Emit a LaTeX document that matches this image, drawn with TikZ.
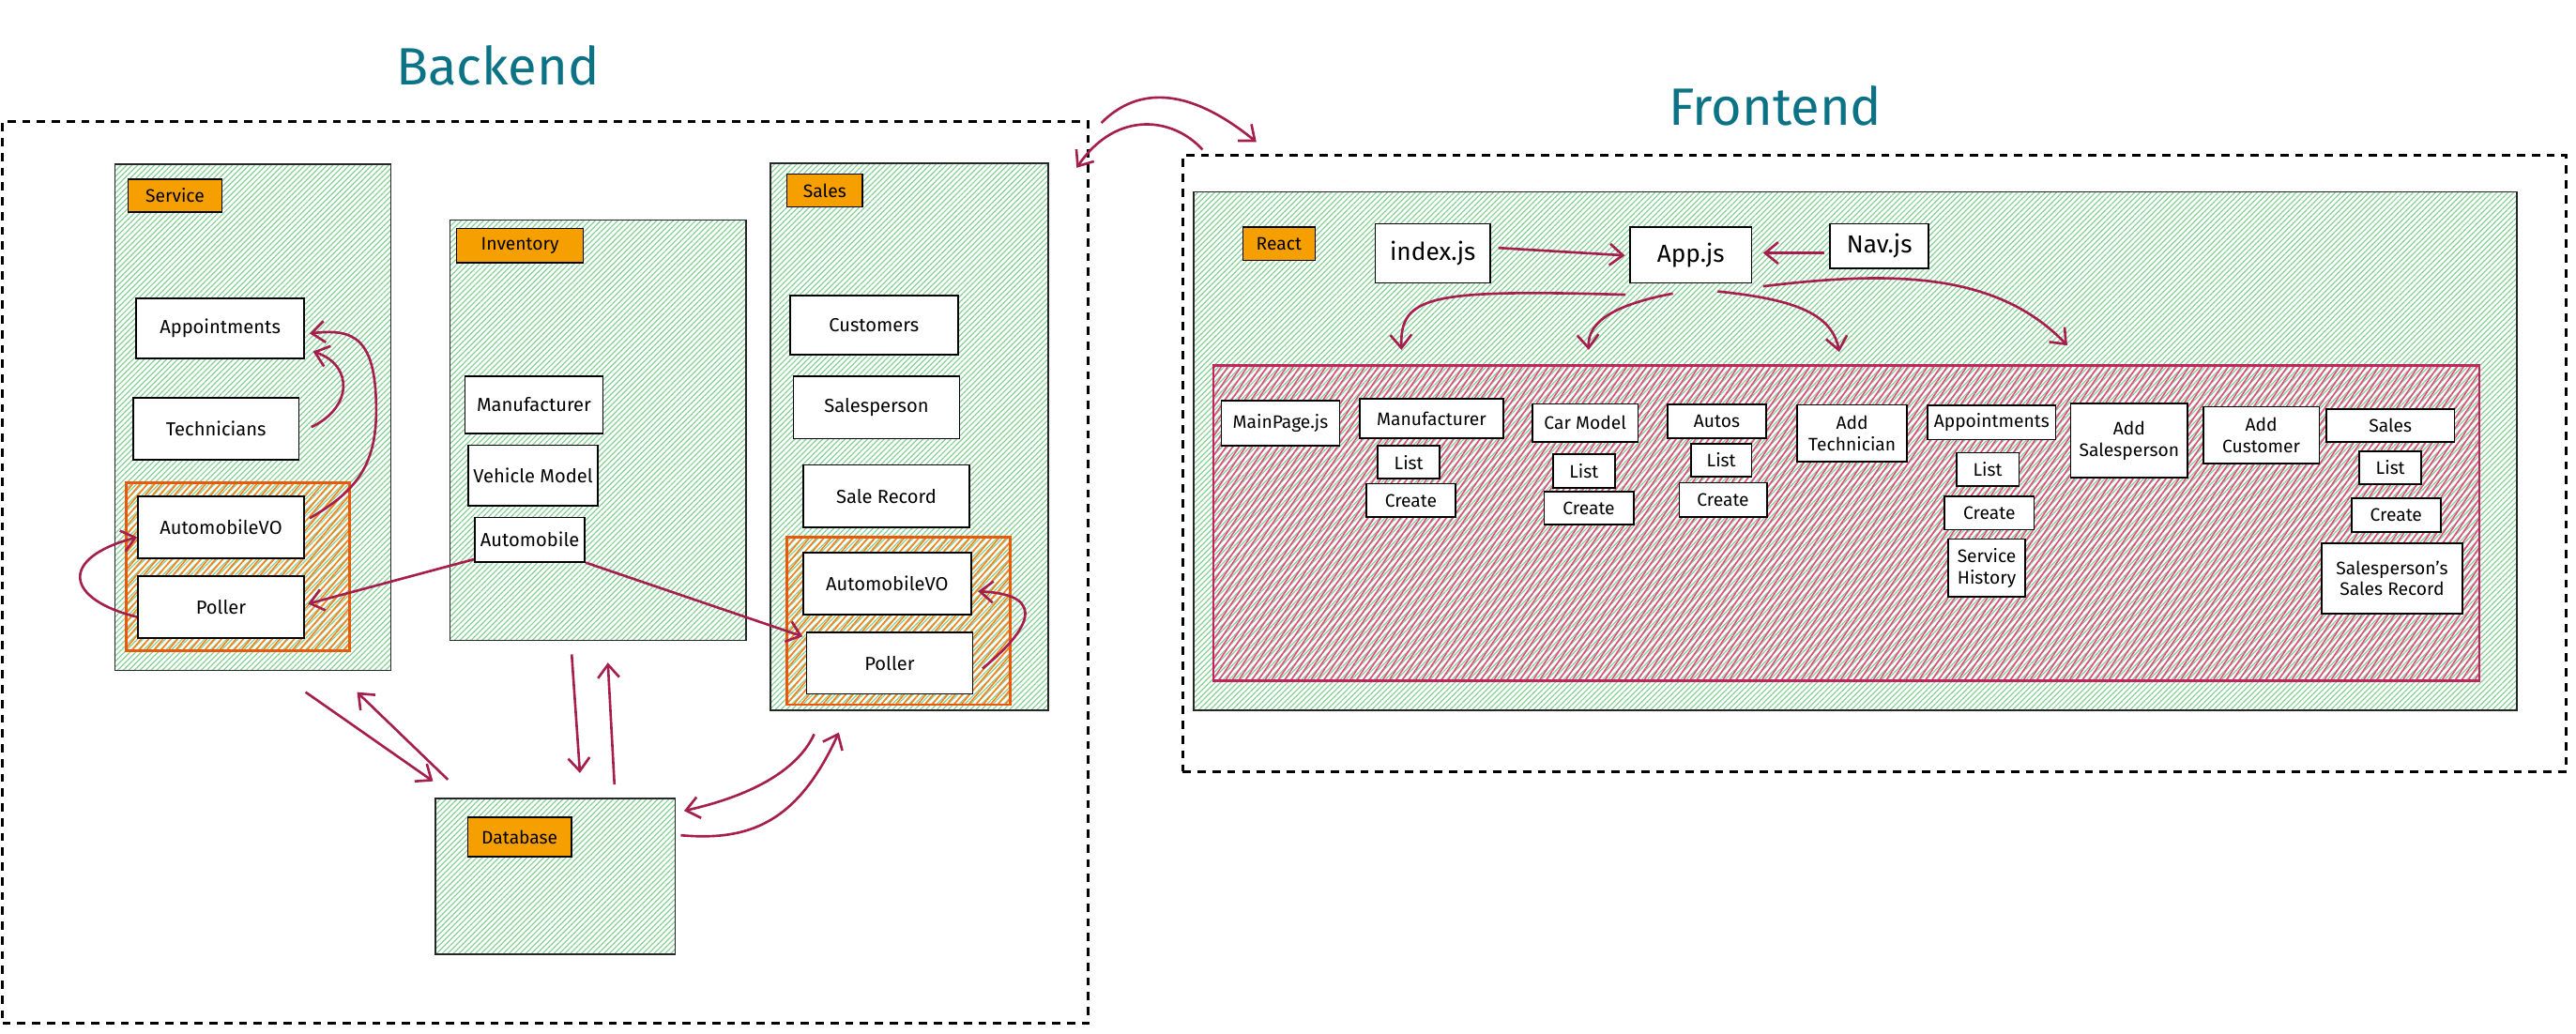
\documentclass[tikz,border=0pt]{standalone}
\usepackage{fontspec}
\setmainfont{Fira Sans}
\usetikzlibrary{arrows.meta,patterns.meta,calc}
\definecolor{hgreen}{HTML}{86D196}
\definecolor{hpink}{HTML}{E64980}
\definecolor{pinkline}{HTML}{C2255C}
\definecolor{horange}{HTML}{FD7E14}
\definecolor{orline}{HTML}{E8590C}
\definecolor{tagorange}{HTML}{F59F00}
\definecolor{arrcol}{HTML}{A61E4D}
\definecolor{titleteal}{HTML}{0C7387}
\begin{document}
\begin{tikzpicture}[x=1pt,y=-1pt,
  frame/.style={draw,line width=1.7pt,dash pattern=on 5pt off 4pt,inner sep=0},
  zone/.style={draw=black!85,line width=0.8pt,inner sep=0,
    pattern={Lines[angle=45,distance=2.4pt,line width=0.7pt]},pattern color=hgreen},
  vobox/.style={draw=orline,line width=1.6pt,inner sep=0,
    pattern={Lines[angle=50,distance=3.4pt,line width=0.9pt]},pattern color=horange},
  pagezone/.style={draw=pinkline,line width=1.5pt,inner sep=0,
    pattern={Lines[angle=56,distance=3.3pt,line width=0.9pt]},pattern color=hpink},
  tag/.style={draw,fill=tagorange,line width=0.8pt,inner sep=0,font=\fontsize{11}{13}\selectfont},
  box/.style={draw,fill=white,line width=1pt,inner sep=0,align=center,font=\fontsize{11.5}{13.5}\selectfont},
  page/.style={box,font=\fontsize{11}{13}\selectfont},
  jsbox/.style={box,font=\fontsize{15}{17}\selectfont},
  title/.style={text=titleteal,font=\fontsize{32}{36}\selectfont},
  arr/.style={draw=arrcol,line width=1.5pt,-{Straight Barb[length=8pt,width=13pt]}}]
  \useasboundingbox (0,0) rectangle (1568,629);
  % backend
  \node[frame,minimum width=661,minimum height=549] (backend) at (332,348.5) {};
  \node[title] (bktitle) at (303,40) {Backend};
  \node[zone,minimum width=168,minimum height=308] (svc) at (154,254) {};
  \node[tag,minimum width=57,minimum height=20] (svctag) at (106.5,119) {Service};
  \node[box,minimum width=102,minimum height=36.5] (appt) at (134,200) {Appointments};
  \node[box,minimum width=101,minimum height=38] (tech) at (131.5,261) {Technicians};
  \node[vobox,minimum width=136,minimum height=102] (svcgrp) at (145,345) {};
  \node[box,minimum width=101,minimum height=38] (svcvo) at (134.5,321) {AutomobileVO};
  \node[box,minimum width=101,minimum height=38] (svcpoll) at (134.5,369.6) {Poller};
  \node[zone,minimum width=180,minimum height=256] (inv) at (364,262) {};
  \node[tag,minimum width=77,minimum height=21] (invtag) at (316.5,149.5) {Inventory};
  \node[box,minimum width=84,minimum height=35] (invman) at (325,246.5) {Manufacturer};
  \node[box,minimum width=79,minimum height=37] (invvm) at (324.5,289.5) {Vehicle Model};
  \node[box,minimum width=67,minimum height=27] (invauto) at (322.5,328.5) {Automobile};
  \node[zone,minimum width=169,minimum height=333] (sales) at (553.5,266) {};
  \node[tag,minimum width=46,minimum height=20] (salestag) at (502,116) {Sales};
  \node[box,minimum width=102,minimum height=36] (cust) at (532,198) {Customers};
  \node[box,minimum width=101,minimum height=38] (slsp) at (533.5,248) {Salesperson};
  \node[box,minimum width=101,minimum height=38] (srec) at (539.5,302) {Sale Record};
  \node[vobox,minimum width=136,minimum height=102] (slsgrp) at (547,378) {};
  \node[box,minimum width=102,minimum height=37.5] (slsvo) at (540,355.3) {AutomobileVO};
  \node[box,minimum width=101,minimum height=37.5] (slspoll) at (541.5,403.7) {Poller};
  \node[zone,minimum width=146,minimum height=95] (db) at (338,533.5) {};
  \node[tag,minimum width=63,minimum height=24] (dbtag) at (316.3,509.5) {Database};
  \draw[arr] ($(svc.south)+(32,13)$) -- ($(db.north west)+(-1,-10)$);
  \draw[arr] ($(db.north west)+(8,-11)$) -- ($(svc.south east)+(-21,13)$);
  \draw[arr] ($(inv.south)+(-16,8)$) -- ($(db.north)+(15,-15)$);
  \draw[arr] ($(db.north)+(36,-8)$) -- ($(inv.south)+(6,13)$);
  \draw[arr] ($(db.east)+(3,-25)$) .. controls (455,512) and (485,502) .. ($(sales.south west)+(42,13)$);
  \draw[arr] ($(sales.south west)+(27,14)$) .. controls (485,470) and (455,485) .. ($(db.north east)+(5,8)$);
  \draw[arr] ($(tech.east)+(7,-1)$) .. controls (215,248) and (215,222) .. ($(appt.east)+(5,14)$);
  \draw[arr] ($(svcvo.east)+(3,-5.5)$) .. controls (215,300) and (229,285) .. (229,250)
    .. controls (229,205) and (215,200) .. ($(appt.east)+(3,3)$);
  \draw[arr] ($(svcpoll.west)+(0,6)$) .. controls (40,365) and (35,340) .. ($(svcvo.west)+(0,6)$);
  \draw[arr] ($(slspoll.east)+(5.5,3.3)$) .. controls (625,385) and (640,362) .. ($(slsvo.east)+(3.8,4.7)$);
  \draw[arr] ($(invauto.south west)+(0,-2)$) -- ($(svcpoll.east)+(2,-2)$);
  \draw[arr] (invauto.south east) -- ($(slspoll.north west)+(-2,3)$);
  % frontend
  \node[frame,minimum width=842,minimum height=375] (frontend) at (1141,282.3) {};
  \node[title] (fetitle) at (1080.6,64.7) {Frontend};
  \node[zone,minimum width=805.4,minimum height=315.4] (react) at (1129.3,274.6) {};
  \node[tag,minimum width=44,minimum height=20.5] (reacttag) at (778.5,148.4) {React};
  \node[jsbox,minimum width=70,minimum height=36] (index) at (872.1,154.2) {index.js};
  \node[jsbox,minimum width=74,minimum height=34] (app) at (1029.2,155.2) {App.js};
  \node[jsbox,minimum width=60,minimum height=27] (nav) at (1144,149.7) {Nav.js};
  \node[pagezone,minimum width=770.6,minimum height=192.1] (pages) at (1123.8,318.5) {};
  \node[page,minimum width=72,minimum height=27.5] (mainpage) at (779.4,257.7) {MainPage.js};
  \node[page,minimum width=87,minimum height=24] (man) at (871.4,254.8) {Manufacturer};
  \node[page,minimum width=37.5,minimum height=20] (manlist) at (857.5,281.4) {List};
  \node[page,minimum width=54.4,minimum height=20.5] (mancreate) at (858.8,304.7) {Create};
  \node[page,minimum width=64.2,minimum height=23] (car) at (964.9,257.4) {Car Model};
  \node[page,minimum width=37.6,minimum height=20.4] (carlist) at (964.1,286.8) {List};
  \node[page,minimum width=54.4,minimum height=20] (carcreate) at (967.1,309.5) {Create};
  \node[page,minimum width=60,minimum height=20.4] (autos) at (1045,256.6) {Autos};
  \node[page,minimum width=37,minimum height=20] (autoslist) at (1047.7,280.2) {List};
  \node[page,minimum width=53.3,minimum height=21] (autoscreate) at (1048.8,304.4) {Create};
  \node[page,minimum width=67,minimum height=34.7] (addtech) at (1127.4,263.8) {Add\\Technician};
  \node[page,minimum width=78,minimum height=20.7] (appts) at (1212.3,257.3) {Appointments};
  \node[page,minimum width=38,minimum height=20.5] (apptslist) at (1209.9,285.8) {List};
  \node[page,minimum width=54.4,minimum height=20.4] (apptscreate) at (1210.9,312.3) {Create};
  \node[page,minimum width=47,minimum height=35.3] (svchist) at (1209.3,345.8) {Service\\History};
  \node[page,minimum width=71.3,minimum height=45.5] (addsp) at (1296,268.2) {Add\\Salesperson};
  \node[page,minimum width=70.7,minimum height=34.5] (addcust) at (1376.4,264.9) {Add\\Customer};
  \node[page,minimum width=78,minimum height=20] (sls) at (1455,258.9) {Sales};
  \node[page,minimum width=37.6,minimum height=20] (slslist) at (1455,284.8) {List};
  \node[page,minimum width=54.4,minimum height=20.4] (slscreate) at (1458.5,313.6) {Create};
  \node[page,minimum width=85.5,minimum height=43] (spsr) at (1456,352.1) {Salesperson's\\Sales Record};
  \draw[arr] ($(index.east)+(4.4,-3.3)$) -- ($(app.west)+(-2.7,0.3)$);
  \draw[arr] ($(nav.west)+(-3,4.3)$) -- ($(app.east)+(6.5,-1.2)$);
  \draw[arr] ($(app.south)+(-39.8,6.7)$) .. controls (870,176) and (852,180) .. ($(pages.north west)+(115,-9)$);
  \draw[arr] ($(app.south)+(-11,6)$) .. controls (985,185) and (966,195) .. ($(pages.north west)+(229,-9)$);
  \draw[arr] ($(app.south)+(16.3,4.7)$) .. controls (1090,182) and (1115,190) .. ($(pages.north west)+(381.5,-7.7)$);
  \draw[arr] ($(app.south east)+(6.5,1.6)$) .. controls (1150,165) and (1215,165) .. ($(pages.north west)+(520.3,-11.7)$);
  % between the two
  \draw[arr] ($(backend.north east)+(7,1.7)$) .. controls (690,55) and (720,50) .. ($(frontend.north west)+(45.6,-7.5)$);
  \draw[arr] ($(frontend.north west)+(12.8,-2.8)$) .. controls (715,72) and (680,66) .. ($(backend.north east)+(-8,29)$);
\end{tikzpicture}
\end{document}
